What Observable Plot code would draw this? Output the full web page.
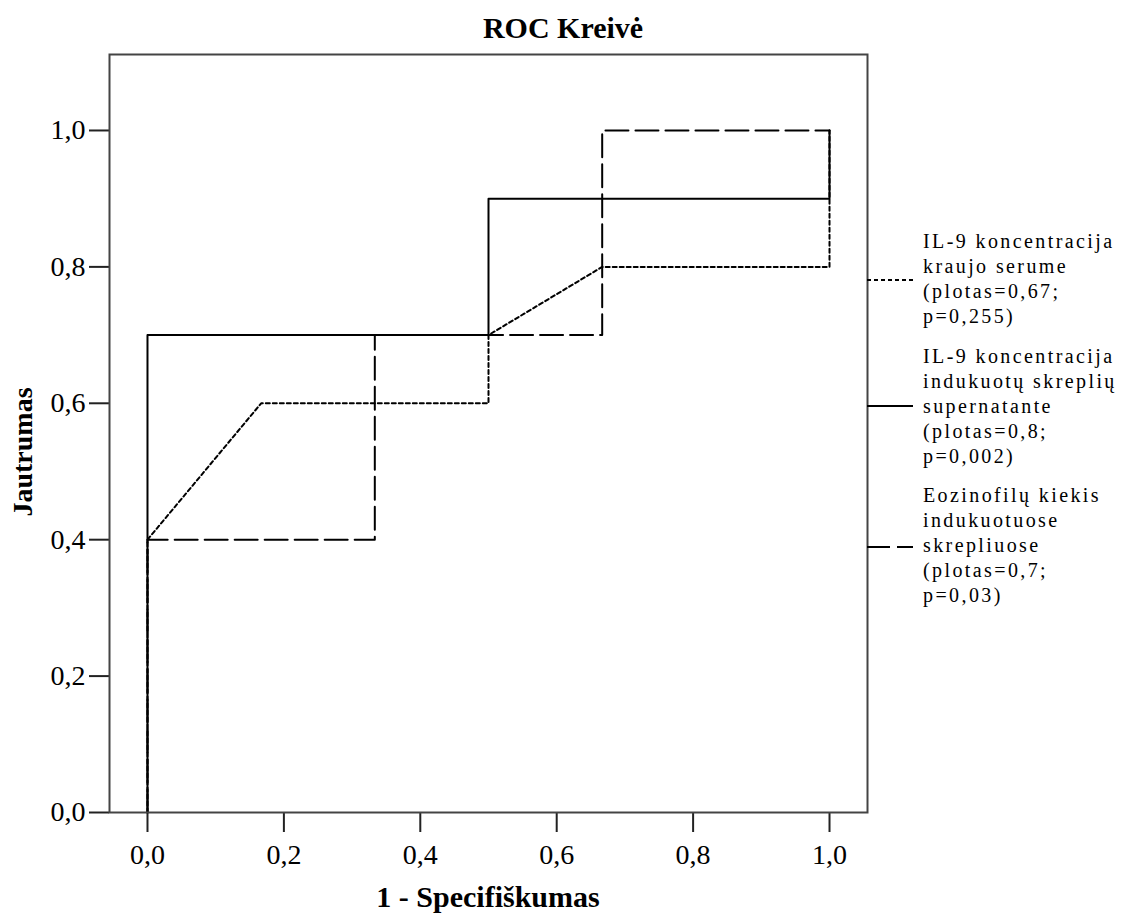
<!DOCTYPE html>
<html>
<head>
<meta charset="utf-8">
<script src="https://cdn.jsdelivr.net/npm/d3@7"></script>
<script src="https://cdn.jsdelivr.net/npm/@observablehq/plot@0.6"></script>
<style>
  html, body { margin: 0; padding: 0; background: #fff; }
  #chart { width: 1130px; height: 915px; }
</style>
</head>
<body>
<div id="chart"></div>
<script>
// ---- Data ----
const title = "ROC Kreivė";
const xLabel = "1 - Specifiškumas";
const yLabel = "Jautrumas";
const xTicks = [0, 0.2, 0.4, 0.6, 0.8, 1.0];
const yTicks = [0, 0.2, 0.4, 0.6, 0.8, 1.0];

// IL-9 koncentracija kraujo serume (dotted)
const serumFpr = [0, 0, 0.1667, 0.5, 0.5, 0.6667, 1, 1];
const serumTpr = [0, 0.4, 0.6, 0.6, 0.7, 0.8, 0.8, 1.0];
// IL-9 koncentracija indukuotų skreplių supernatante (solid)
const superFpr = [0, 0, 0.5, 0.5, 1, 1];
const superTpr = [0, 0.7, 0.7, 0.9, 0.9, 1.0];
// Eozinofilų kiekis indukuotuose skrepliuose (dashed)
const eozFpr = [0, 0, 0.3333, 0.3333, 0.6667, 0.6667, 1];
const eozTpr = [0, 0.4, 0.4, 0.7, 0.7, 1.0, 1.0];

const legendLabels = [
  ["IL-9 koncentracija", "kraujo serume", "(plotas=0,67;", "p=0,255)"],
  ["IL-9 koncentracija", "indukuotų skreplių", "supernatante", "(plotas=0,8;", "p=0,002)"],
  ["Eozinofilų kiekis", "indukuotuose", "skrepliuose", "(plotas=0,7;", "p=0,03)"]
];
const legendDash = ["4,3", null, "23,7"];

const toRows = (xs, ys) => xs.map((x, i) => ({x, y: ys[i]}));
const serum = toRows(serumFpr, serumTpr);
const superN = toRows(superFpr, superTpr);
const eoz = toRows(eozFpr, eozTpr);

const fmt = d => d3.format(".1f")(d).replace(".", ",");
const FONT = "'Liberation Serif', 'Times New Roman', serif";

const W = 1130, H = 915;
const mL = 109, mR = 263, mT = 54, mB = 103;

const plot = Plot.plot({
  width: W,
  height: H,
  marginLeft: mL,
  marginRight: mR,
  marginTop: mT,
  marginBottom: mB,
  style: {fontFamily: FONT, background: "#fff", color: "#000"},
  x: {domain: [-0.0557, 1.0557]},
  y: {domain: [0, 1.1114]},
  marks: [
    Plot.axisX({ticks: xTicks, tickFormat: fmt, tickSize: 20, tickPadding: 12,
      fontSize: 28, fontFamily: FONT, stroke: "#222", strokeWidth: 2, label: null}),
    Plot.axisY({ticks: yTicks, tickFormat: fmt, tickSize: 20, tickPadding: 4,
      fontSize: 28, fontFamily: FONT, stroke: "#222", strokeWidth: 2, label: null}),
    Plot.line(eoz, {x: "x", y: "y", stroke: "#000", strokeWidth: 2, strokeDasharray: "23,7", curve: "linear"}),
    Plot.line(serum, {x: "x", y: "y", stroke: "#000", strokeWidth: 2, strokeDasharray: "4,3", curve: "linear"}),
    Plot.line(superN, {x: "x", y: "y", stroke: "#000", strokeWidth: 2, curve: "linear"}),
    Plot.frame({stroke: "#444", strokeWidth: 2})
  ]
});

document.getElementById("chart").appendChild(plot);

// ---- Titles & legend ----
const svg = d3.select(plot);
svg.append("text")
  .attr("x", 563).attr("y", 38)
  .attr("text-anchor", "middle")
  .attr("font-family", FONT).attr("font-size", 30).attr("font-weight", "bold")
  .attr("fill", "#000")
  .text(title);

svg.append("text")
  .attr("x", 488).attr("y", 907)
  .attr("text-anchor", "middle")
  .attr("font-family", FONT).attr("font-size", 30).attr("font-weight", "bold")
  .attr("fill", "#000")
  .text(xLabel);

svg.append("text")
  .attr("transform", "translate(32,452) rotate(-90)")
  .attr("text-anchor", "middle")
  .attr("font-family", FONT).attr("font-size", 28).attr("font-weight", "bold")
  .attr("fill", "#000")
  .text(yLabel);

const groupStart = [248, 363, 502];
const sampleY = [280, 406, 547];
const lineStep = 25;
const xRight = W - mR;
legendLabels.forEach((lines, g) => {
  const line = svg.append("line")
    .attr("x1", xRight).attr("x2", xRight + 46)
    .attr("y1", sampleY[g]).attr("y2", sampleY[g])
    .attr("stroke", "#000").attr("stroke-width", 2);
  if (legendDash[g]) line.attr("stroke-dasharray", legendDash[g]);
  lines.forEach((t, i) => {
    svg.append("text")
      .attr("x", 923).attr("y", groupStart[g] + i * lineStep)
      .attr("text-anchor", "start")
      .attr("font-family", FONT).attr("font-size", 20)
      .attr("letter-spacing", "2.4px")
      .attr("fill", "#000")
      .text(t);
  });
});
</script>
</body>
</html>
